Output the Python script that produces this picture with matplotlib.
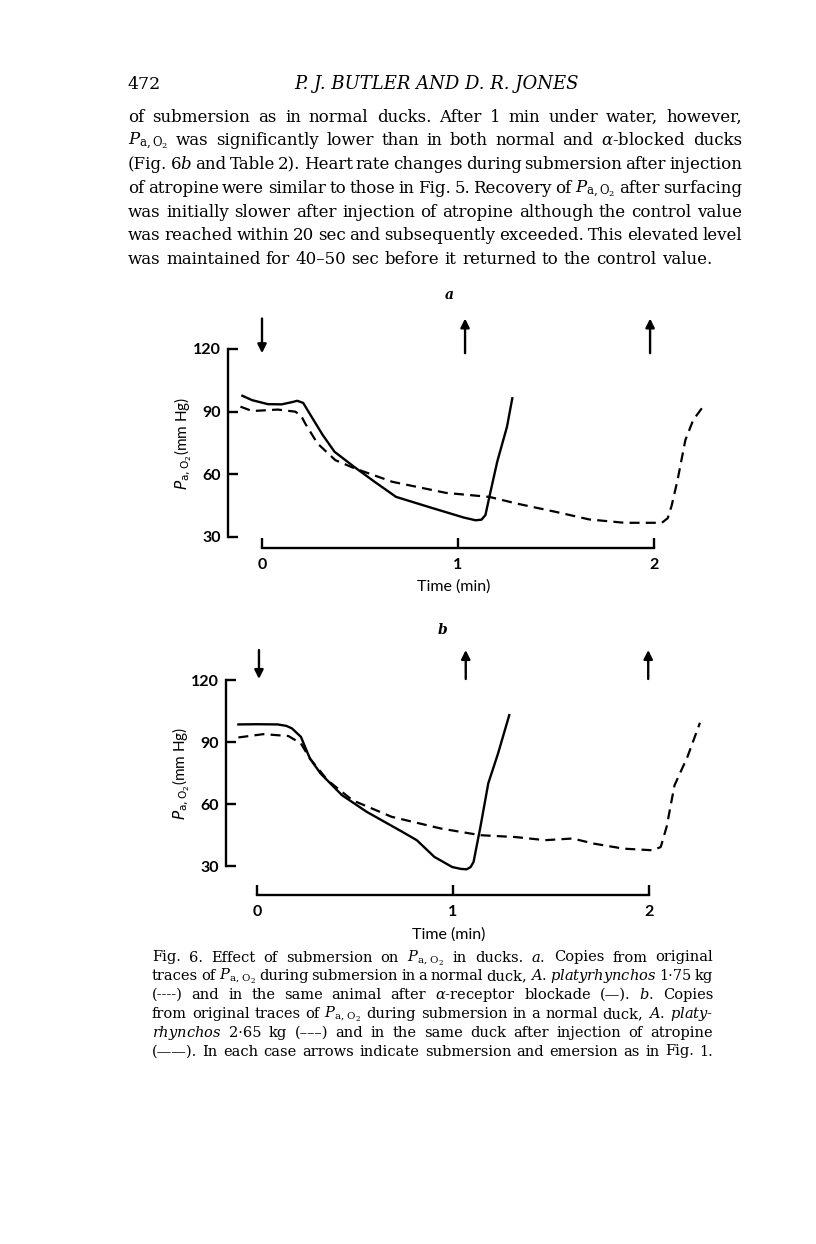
import numpy as np
import matplotlib
matplotlib.use("Agg")
import matplotlib.pyplot as plt

W, H = 816, 1244

# ---- data (time in min, PaO2 in mm Hg) ----
a_solid_t = [-0.10, -0.05, 0.03, 0.10, 0.15, 0.18, 0.21, 0.25, 0.31, 0.37, 0.47, 0.575,
             0.684, 0.85, 1.03, 1.09, 1.12, 1.14, 1.16, 1.20, 1.25, 1.277]
a_solid_p = [97.6, 95.5, 93.6, 93.5, 94.5, 95.2, 94.2, 88.0, 78.8, 70.8, 63.6, 56.4,
             49.2, 44.4, 39.3, 38.0, 38.3, 40.5, 49.2, 66.0, 82.8, 96.4]
a_dash_t = [-0.11, -0.05, 0.08, 0.17, 0.20, 0.22, 0.283, 0.374, 0.474, 0.666, 0.94, 1.16,
            1.30, 1.50, 1.67, 1.85, 2.04, 2.07, 2.09, 2.12, 2.16, 2.20, 2.25]
a_dash_p = [92.4, 90.3, 91.0, 90.0, 88.0, 84.4, 74.8, 66.8, 62.8, 56.4, 51.1, 49.2,
            46.0, 42.0, 38.4, 36.8, 36.8, 39.0, 45.0, 57.2, 76.4, 86.0, 92.4]

b_solid_t = [-0.095, 0.0, 0.105, 0.15, 0.178, 0.224, 0.27, 0.324, 0.433, 0.56, 0.742, 0.815,
             0.905, 0.996, 1.04, 1.07, 1.09, 1.105, 1.14, 1.18, 1.23, 1.287]
b_solid_p = [98.5, 98.6, 98.5, 97.8, 96.6, 92.5, 82.0, 74.8, 64.3, 56.2, 46.5, 42.5,
             34.4, 29.5, 28.6, 28.4, 29.5, 32.0, 49.0, 70.0, 84.5, 103.0]
b_dash_t = [-0.095, 0.033, 0.16, 0.224, 0.27, 0.36, 0.487, 0.687, 0.94, 1.14, 1.32, 1.47,
            1.61, 1.72, 1.87, 2.02, 2.06, 2.09, 2.13, 2.196, 2.26]
b_dash_p = [92.2, 93.8, 92.9, 89.3, 82.0, 71.5, 61.8, 53.8, 48.1, 44.9, 44.0, 42.5,
            43.3, 40.8, 38.4, 37.6, 39.2, 49.0, 69.0, 82.8, 99.3]

# submersion (down) and emersion (up) arrows, time in min
a_arrows = [(0.0, "down"), (1.036, "up"), (1.98, "up")]
b_arrows = [(0.01, "down"), (1.065, "up"), (1.996, "up")]

y_ticks = [30, 60, 90, 120]
t_ticks = [0, 1, 2]

header_page = "472"
header_title = "P. J. BUTLER AND D. R. JONES"
body_lines = [
    r"of submersion as in normal ducks. After 1 min under water, however,",
    r"$P_{\mathrm{a,O_2}}$ was significantly lower than in both normal and $\alpha$-blocked ducks",
    r"(Fig. 6$\mathit{b}$ and Table 2). Heart rate changes during submersion after injection",
    r"of atropine were similar to those in Fig. 5. Recovery of $P_{\mathrm{a,O_2}}$ after surfacing",
    r"was initially slower after injection of atropine although the control value",
    r"was reached within 20 sec and subsequently exceeded. This elevated level",
    r"was maintained for 40–50 sec before it returned to the control value.",
]
caption_lines = [
    r"Fig. 6. Effect of submersion on $P_{\mathrm{a,\,O_2}}$ in ducks. $\mathit{a}$. Copies from original",
    r"traces of $P_{\mathrm{a,\,O_2}}$ during submersion in a normal duck, $\mathit{A}$. $\mathit{platyrhynchos}$ 1·75 kg",
    r"(----) and in the same animal after $\alpha$-receptor blockade (—). $\mathit{b}$. Copies",
    r"from original traces of $P_{\mathrm{a,\,O_2}}$ during submersion in a normal duck, $\mathit{A}$. $\mathit{platy}$-",
    r"$\mathit{rhynchos}$ 2·65 kg (–––) and in the same duck after injection of atropine",
    r"(——). In each case arrows indicate submersion and emersion as in Fig. 1.",
]

fig = plt.figure(figsize=(W / 100, H / 100), dpi=100)
fig.patch.set_facecolor("white")
renderer = fig.canvas.get_renderer()


def fx(x):
    return x / W


def fy(y):
    return 1 - y / H


def put_line(text, x0, x1, ybase, size, style="normal"):
    # place words one by one so the line is justified between x0 and x1
    words = text.split(" ")
    objs = [fig.text(0, fy(ybase), w, fontsize=size, family="DejaVu Serif", style=style,
                     math_fontfamily="dejavuserif", va="baseline", ha="left")
            for w in words]
    widths = [o.get_window_extent(renderer).width for o in objs]
    gap = (x1 - x0 - sum(widths)) / max(len(objs) - 1, 1)
    x = x0
    for o, w in zip(objs, widths):
        o.set_x(fx(x))
        x += w + gap


# page header and body text
fig.text(fx(128), fy(89), header_page, fontsize=12.5, family="DejaVu Serif", va="baseline")
fig.text(fx(437), fy(89), header_title, fontsize=13, family="DejaVu Serif", style="italic",
         ha="center", va="baseline")
for i, line in enumerate(body_lines):
    x1 = 742 if i < len(body_lines) - 1 else 712
    put_line(line, 128, x1, 121.5 + 23.8 * i, 12)

for i, line in enumerate(caption_lines):
    put_line(line, 152, 713, 961.5 + 18.8 * i, 10.5)


def panel(solid_t, solid_p, dash_t, dash_p, arrows, t0, p120, p30, bar, spine_t, box,
          arrow_y, letter, ylab_x, time_y):
    pxmin = 196.0
    pxmm = (p30 - p120) / 90.0
    x0, x1, y0, y1 = box
    ax = fig.add_axes([fx(x0), fy(y1), (x1 - x0) / W, (y1 - y0) / H])
    ax.set_xlim((x0 - t0) / pxmin, (x1 - t0) / pxmin)
    ax.set_ylim(120 - (y1 - p120) / pxmm, 120 - (y0 - p120) / pxmm)
    ax.patch.set_alpha(0)

    ax.plot(solid_t, solid_p, color="black", lw=1.7, solid_joinstyle="round")
    ax.plot(dash_t, dash_p, color="black", lw=1.6, dashes=(4.5, 2.8))

    for s in ["top", "right"]:
        ax.spines[s].set_visible(False)
    ax.spines["left"].set_position(("data", spine_t))
    ax.spines["left"].set_bounds(30, 120)
    ax.spines["bottom"].set_position(("data", bar))
    ax.spines["bottom"].set_bounds(0, 2)
    for s in ["left", "bottom"]:
        ax.spines[s].set_linewidth(1.7)
    ax.set_yticks(y_ticks)
    ax.set_xticks(t_ticks)
    ax.tick_params(axis="y", direction="in", length=7, width=1.7, pad=5)
    ax.tick_params(axis="x", direction="in", length=7, width=1.7, pad=7)
    for lab in ax.get_xticklabels() + ax.get_yticklabels():
        lab.set_fontfamily("Lato")
        lab.set_fontweight("bold")
        lab.set_fontsize(11.5)

    lo, hi = arrow_y
    for t, d in arrows:
        start, end = (hi, lo) if d == "down" else (lo, hi)
        ax.annotate("", xy=(t, end), xytext=(t, start),
                    arrowprops=dict(arrowstyle="-|>", color="black", lw=1.7,
                                    mutation_scale=13, shrinkA=0, shrinkB=0),
                    annotation_clip=False)

    fig.text(fx(ylab_x), fy((p120 + p30) / 2), r"$P_{\mathrm{a,O_2}}$(mm Hg)", rotation=90,
             fontsize=11, family="Lato", math_fontfamily="dejavusans",
             ha="center", va="center")
    fig.text(fx(t0 + pxmin * 0.98), fy(time_y), "Time (min)", fontsize=11.5,
             family="Lato", ha="center", va="center")
    fig.text(fx(letter[0]), fy(letter[1]), letter[2], fontsize=10, family="DejaVu Serif",
             style="italic", weight="bold", ha="center", va="center")
    return ax


panel(a_solid_t, a_solid_p, a_dash_t, a_dash_p, a_arrows, t0=262, p120=349, p30=537,
      bar=24.7, spine_t=-0.173, box=(190, 730, 300, 570), arrow_y=(118.0, 134.6),
      letter=(449, 295, "a"), ylab_x=183, time_y=587)

panel(b_solid_t, b_solid_p, b_dash_t, b_dash_p, b_arrows, t0=257, p120=680, p30=866,
      bar=16.0, spine_t=-0.158, box=(190, 730, 640, 915), arrow_y=(120.5, 134.5),
      letter=(443, 630, "b"), ylab_x=181, time_y=935)

fig.savefig("out.png", dpi=100)
